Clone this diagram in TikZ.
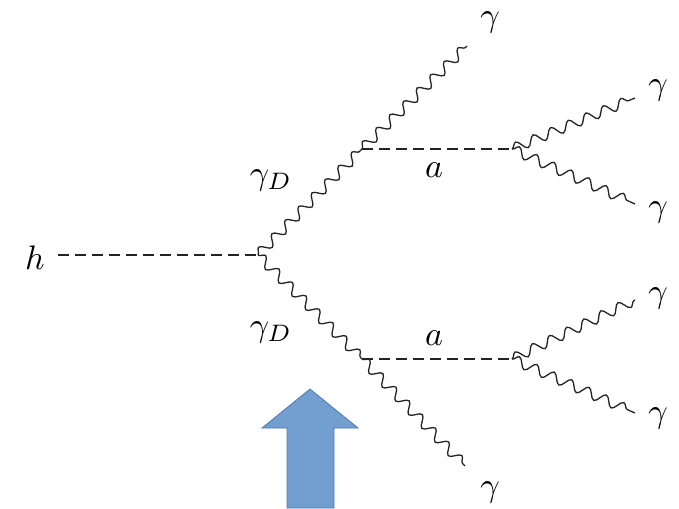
\documentclass[tikz,border=0pt]{standalone}
\usepackage{graphicx}
\usetikzlibrary{decorations.pathmorphing}
\definecolor{arrfill}{RGB}{114,159,207}
\definecolor{arrline}{RGB}{80,120,180}
\definecolor{lin}{RGB}{35,35,35}
\tikzset{
  photon/.style={draw=lin, line width=1.3pt, decorate, decoration={snake, segment length=19pt, amplitude=5pt}},
  scalar/.style={draw=lin, line width=1.2pt, dash pattern=on 11pt off 6pt},
  lbl/.style={inner sep=0pt}
}
\newcommand{\lbltext}[1]{\scalebox{3.4}{$#1$}}
\begin{document}
\begin{tikzpicture}[x=1pt,y=-1pt]
\useasboundingbox (0,0) rectangle (679,508);
% vertices
\coordinate (hs) at (58,255);
\coordinate (v0) at (258,255);
\coordinate (v1) at (362,149);
\coordinate (v2) at (362,359);
\coordinate (v3) at (512,149);
\coordinate (v4) at (512,359);
\coordinate (g1) at (467,46);
\coordinate (g2) at (465,466);
\coordinate (g3) at (635,98);
\coordinate (g4) at (635,204);
\coordinate (g5) at (635,300);
\coordinate (g6) at (635,413);
% lines
\draw[scalar] (hs) -- (v0);
\draw[photon] (v0) -- (v1);
\draw[photon] (v0) -- (v2);
\draw[photon] (v1) -- (g1);
\draw[photon] (v2) -- (g2);
\draw[scalar] (v1) -- (v3);
\draw[scalar] (v2) -- (v4);
\draw[photon] (v3) -- (g3);
\draw[photon] (v3) -- (g4);
\draw[photon] (v4) -- (g5);
\draw[photon] (v4) -- (g6);
% labels
\node[lbl] (lh) at (35,258) {\lbltext{h}};
\node[lbl] (lgd1) at (271,180) {\lbltext{\gamma_D}};
\node[lbl] (lgd2) at (271,332) {\lbltext{\gamma_D}};
\node[lbl] (la1) at (434,170) {\lbltext{a}};
\node[lbl] (la2) at (434,338) {\lbltext{a}};
\node[lbl] (lg1) at (490,22) {\lbltext{\gamma}};
\node[lbl] (lg2) at (490,492) {\lbltext{\gamma}};
\node[lbl] (lg3) at (658,90) {\lbltext{\gamma}};
\node[lbl] (lg4) at (658,212) {\lbltext{\gamma}};
\node[lbl] (lg5) at (658,298) {\lbltext{\gamma}};
\node[lbl] (lg6) at (658,418) {\lbltext{\gamma}};
% big arrow
\draw[fill=arrfill, draw=arrline, line width=0.8pt] (310,389) -- (358,428) -- (334,428) -- (334,508) -- (287,508) -- (287,428) -- (262,428) -- cycle;
\end{tikzpicture}
\end{document}
